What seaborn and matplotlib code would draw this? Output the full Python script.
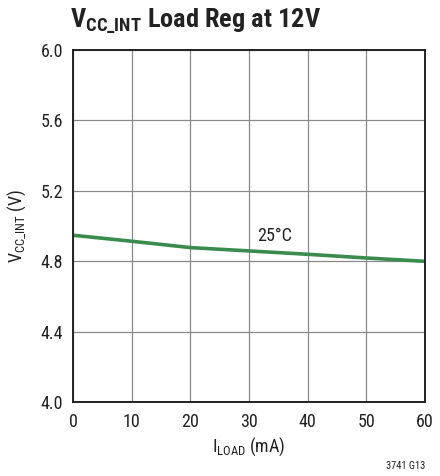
import numpy as np
import pandas as pd
import matplotlib
matplotlib.use("Agg")
import matplotlib.pyplot as plt
import seaborn as sns

# Dados
i_load = [0, 10, 20, 30, 40, 50, 60]
v_cc_int = [4.948, 4.914, 4.878, 4.859, 4.840, 4.819, 4.800]
x_ticks = [0, 10, 20, 30, 40, 50, 60]
y_ticks = [4.0, 4.4, 4.8, 5.2, 5.6, 6.0]

df = pd.DataFrame({"I_LOAD": i_load, "V": v_cc_int})

sns.set_style("white")
fontes = ['Roboto Condensed', 'Liberation Sans', 'DejaVu Sans']
plt.rcParams['font.family'] = fontes
plt.rcParams['mathtext.fontset'] = 'custom'
plt.rcParams['mathtext.rm'] = 'Roboto Condensed'
plt.rcParams['mathtext.bf'] = 'Roboto Condensed:bold'

fig = plt.figure(figsize=(4.4, 4.76), dpi=100)
ax = fig.add_axes([0.166, 0.155, 0.800, 0.740])

sns.lineplot(data=df, x="I_LOAD", y="V", color="#3a8c4e", linewidth=2.6, ax=ax)

ax.set_xlim(0, 60)
ax.set_ylim(4.0, 6.0)
ax.set_xticks(x_ticks)
ax.set_yticks(y_ticks)
ax.set_yticklabels([f"{v:.1f}" for v in y_ticks])
ax.grid(True, color="#8a8a8a", linewidth=0.9)
for s in ax.spines.values():
    s.set_color("#222222")
    s.set_linewidth(1.4)
ax.tick_params(axis="y", length=0, labelsize=13, pad=7, colors="#222222")
ax.tick_params(axis="x", length=0, labelsize=13, pad=8, colors="#222222")

ax.set_xlabel(r"I$_{\mathrm{LOAD}}$ (mA)", fontsize=13, color="#222222", labelpad=3)
ax.set_ylabel(r"V$_{\mathrm{CC\_INT}}$ (V)", fontsize=13, color="#222222", labelpad=9)

ax.text(34.4, 4.944, "25°C", fontsize=13, color="#222222", ha="center", va="center")

fig.text(0.16, 0.955, r"$\mathbf{V_{CC\_INT}}$ Load Reg at 12V", fontsize=19,
         fontweight="bold", color="#222222", ha="left", va="center")
fig.text(0.966, 0.022, "3741 G13", fontsize=7.5, color="#222222", ha="right", va="center")

fig.savefig("out.png", dpi=100)
